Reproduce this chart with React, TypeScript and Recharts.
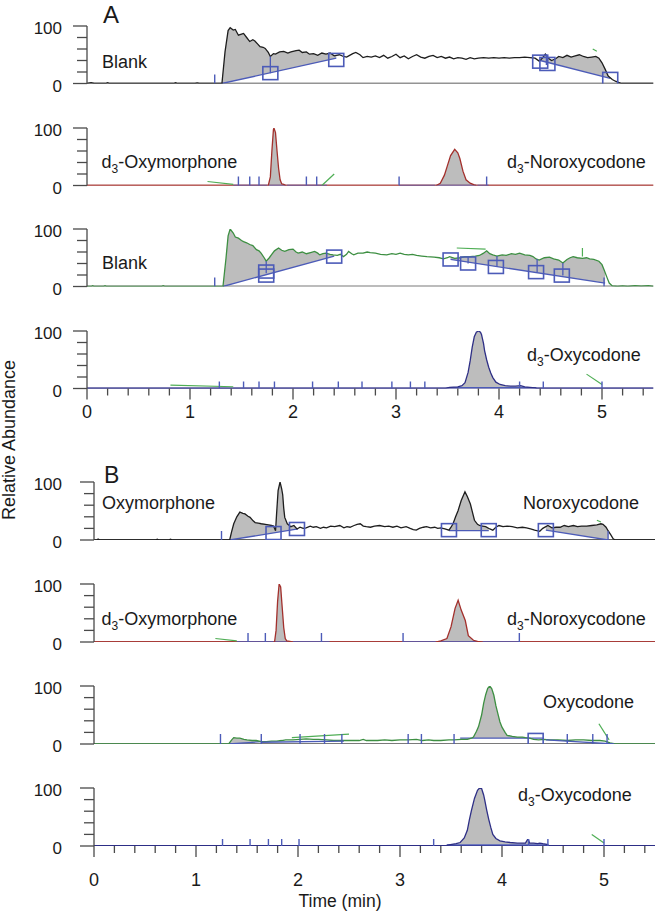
import React from "react";
import { ComposedChart, Line, Area, Scatter, XAxis, YAxis } from "recharts";

type Pt = [number, number];
type Seg = [Pt, Pt];

// ---------- A: blank ----------
const traceA1: Pt[] = [
  [0, 0], [0.04, 1.5], [0.07, 0], [0.18, 0], [0.2, 1.5], [0.22, 0], [0.84, 0], [0.86, 1.2], [0.88, 0],
  [1.05, 0], [1.07, 1], [1.09, 0], [1.31, 0], [1.34, 55], [1.37, 92], [1.39, 97], [1.42, 93], [1.44, 94],
  [1.47, 84], [1.5, 86], [1.52, 87], [1.55, 80], [1.58, 73], [1.61, 76], [1.63, 74], [1.66, 68], [1.68, 64],
  [1.71, 63], [1.73, 61], [1.76, 54], [1.78, 47], [1.81, 52], [1.83, 51], [1.87, 55], [1.91, 56], [1.95, 53],
  [1.98, 55], [2.03, 57], [2.06, 58], [2.09, 54], [2.13, 55], [2.16, 51], [2.2, 52], [2.24, 49], [2.28, 53],
  [2.32, 51], [2.36, 53], [2.4, 48], [2.45, 50], [2.49, 47], [2.52, 46], [2.55, 49], [2.58, 52], [2.61, 54],
  [2.65, 50], [2.68, 45], [2.72, 47], [2.76, 46], [2.8, 48], [2.84, 45], [2.88, 49], [2.92, 44], [2.96, 47],
  [3.0, 51], [3.04, 45], [3.08, 48], [3.12, 43], [3.16, 47], [3.2, 50], [3.24, 46], [3.28, 44], [3.32, 47],
  [3.36, 49], [3.4, 45], [3.44, 47], [3.48, 44], [3.52, 46], [3.56, 43], [3.6, 45], [3.64, 44], [3.68, 42],
  [3.72, 45], [3.76, 43], [3.8, 44], [3.85, 45], [3.9, 44], [3.95, 45], [4.0, 44], [4.05, 45], [4.1, 44],
  [4.15, 45], [4.2, 45], [4.25, 46], [4.3, 45], [4.35, 44], [4.39, 39], [4.42, 44], [4.45, 51], [4.48, 44],
  [4.51, 40], [4.55, 43], [4.58, 47], [4.62, 45], [4.66, 49], [4.7, 46], [4.74, 48], [4.78, 50], [4.82, 47],
  [4.86, 45], [4.9, 46], [4.94, 47], [4.97, 44], [5.0, 36], [5.03, 25], [5.06, 13], [5.1, 7], [5.13, 4],
  [5.16, 2], [5.19, 0], [5.5, 0],
];
const cutsA1: Seg[] = [[[1.31, 0], [2.42, 44]], [[4.4, 40], [5.08, 9]]];
const boxesA1: Pt[] = [[1.78, 18], [2.42, 41], [4.4, 38], [4.47, 34], [5.08, 8]];
const dropsA1: Seg[] = [[[1.78, 18], [1.78, 47]], [[4.46, 32], [4.46, 51]]];
const marksA1 = [1.24];
const greenA1: Seg[] = [[[4.91, 60], [4.95, 56]]];

// ---------- A: d3-oxymorphone / d3-noroxycodone ----------
const traceA2: Pt[] = [
  [0, 0], [1.76, 0], [1.78, 15], [1.795, 60], [1.81, 97], [1.815, 100], [1.83, 92], [1.845, 60], [1.86, 30],
  [1.875, 10], [1.89, 3], [1.91, 2], [1.93, 0], [3.39, 0], [3.43, 4], [3.47, 18], [3.5, 35], [3.53, 52],
  [3.57, 63], [3.6, 57], [3.62, 47], [3.65, 25], [3.68, 10], [3.72, 4], [3.76, 1], [3.78, 0], [5.5, 0],
];
const cutsA2: Seg[] = [[[1.76, 0], [1.93, 0]], [[3.39, 0], [3.78, 0]]];
const zeroA2: Seg[] = [[[1.42, 0], [1.75, 0]], [[1.94, 0], [2.33, 0]], [[3.03, 0], [3.38, 0]], [[3.79, 0], [3.9, 0]]];
const marksA2 = [1.47, 1.58, 1.67, 2.13, 2.23, 3.03, 3.88];
const greenA2: Seg[] = [[[1.17, 7], [1.42, 2]], [[2.28, 0], [2.4, 20]]];

// ---------- A: blank (second transition) ----------
const traceA3: Pt[] = [
  [0, 0], [0.04, 0], [0.055, 1.5], [0.07, 0], [0.16, 0], [0.175, 1.5], [0.19, 0], [0.72, 0], [0.74, 1.5],
  [0.76, 0], [1.32, 0], [1.35, 50], [1.37, 88], [1.39, 100], [1.42, 93], [1.44, 86], [1.47, 84], [1.5, 80],
  [1.52, 78], [1.55, 76], [1.58, 73], [1.61, 71], [1.645, 64], [1.67, 62], [1.69, 58], [1.72, 50], [1.74, 44],
  [1.77, 50], [1.79, 55], [1.82, 62], [1.86, 67], [1.89, 63], [1.92, 61], [1.96, 64], [2.0, 65], [2.03, 60],
  [2.05, 58], [2.09, 60], [2.13, 57], [2.17, 59], [2.21, 61], [2.24, 58], [2.26, 55], [2.29, 57], [2.32, 58],
  [2.36, 56], [2.39, 55], [2.43, 54], [2.46, 56], [2.49, 52], [2.52, 56], [2.54, 61], [2.57, 57], [2.59, 55],
  [2.63, 58], [2.68, 58], [2.72, 60], [2.75, 59], [2.8, 58], [2.85, 56], [2.91, 55], [2.96, 57], [3.0, 56],
  [3.04, 58], [3.08, 56], [3.12, 55], [3.16, 56], [3.2, 54], [3.25, 53], [3.3, 52], [3.37, 51], [3.42, 50],
  [3.46, 48], [3.5, 50], [3.52, 52], [3.57, 49], [3.62, 50], [3.67, 52], [3.72, 52], [3.77, 53], [3.81, 54],
  [3.85, 58], [3.88, 62], [3.91, 57], [3.94, 55], [3.98, 53], [4.03, 55], [4.07, 54], [4.12, 57], [4.16, 56],
  [4.2, 58], [4.25, 55], [4.3, 54], [4.33, 52], [4.36, 48], [4.39, 46], [4.44, 50], [4.49, 51], [4.53, 48],
  [4.58, 46], [4.62, 41], [4.66, 47], [4.69, 50], [4.72, 52], [4.76, 50], [4.81, 49], [4.85, 50], [4.88, 48],
  [4.92, 47], [4.97, 44], [5.0, 38], [5.02, 29], [5.05, 15], [5.07, 6], [5.1, 1], [5.15, 0], [5.2, 1],
  [5.25, 0], [5.32, 1.5], [5.38, 0.5], [5.45, 1.5], [5.5, 0],
];
const cutsA3: Seg[] = [[[1.32, 0], [2.4, 53]], [[3.53, 47], [5.03, 6]]];
const boxesA3: Pt[] = [[1.74, 26], [1.74, 19], [2.4, 52], [3.53, 47], [3.7, 40], [3.97, 34], [4.36, 25], [4.61, 19]];
const dropsA3: Seg[] = [
  [[1.74, 23], [1.74, 44]], [[3.7, 40], [3.7, 52]], [[3.98, 34], [3.98, 53]], [[4.37, 25], [4.37, 48]], [[4.62, 19], [4.62, 41]],
];
const marksA3 = [1.24, 5.02];
const greenA3: Seg[] = [[[3.59, 67], [3.87, 65]], [[4.81, 67], [4.81, 52]]];

// ---------- A: d3-oxycodone ----------
const traceA4: Pt[] = [
  [0, 0], [3.48, 0], [3.52, 2], [3.6, 3], [3.64, 5], [3.67, 10], [3.7, 28], [3.72, 48], [3.74, 72], [3.76, 90],
  [3.78, 98], [3.8, 100], [3.82, 98], [3.83, 94], [3.85, 78], [3.86, 66], [3.88, 50], [3.9, 37], [3.92, 27],
  [3.94, 19], [3.97, 11], [4.01, 7], [4.06, 5], [4.11, 4], [4.16, 4], [4.21, 5], [4.25, 3], [4.3, 2],
  [4.35, 1], [4.37, 0], [5.5, 0],
];
const cutsA4: Seg[] = [[[3.5, 1.5], [4.36, 1.5]]];
const marksA4 = [1.285, 1.52, 1.67, 1.82, 2.19, 2.44, 2.67, 2.96, 3.14, 3.28, 4.2, 4.43, 5.0];
const greenA4: Seg[] = [[[0.81, 6], [1.42, 3]], [[4.85, 25], [5.0, 7]]];

// ---------- B: oxymorphone / noroxycodone ----------
const traceB1: Pt[] = [
  [0, 0], [0.03, 0], [0.04, 1.5], [0.06, 0], [0.6, 0], [0.62, 1.5], [0.64, 0], [0.73, 0], [0.75, 1.5], [0.77, 0],
  [1.33, 0], [1.35, 15], [1.37, 28], [1.4, 40], [1.43, 48], [1.46, 46], [1.48, 45], [1.51, 41], [1.53, 39],
  [1.56, 33], [1.58, 30], [1.61, 29], [1.64, 28], [1.68, 27], [1.71, 26], [1.74, 25], [1.76, 24], [1.78, 16],
  [1.79, 45], [1.805, 85], [1.824, 100], [1.84, 88], [1.85, 78], [1.86, 55], [1.87, 39], [1.895, 28],
  [1.93, 23], [1.96, 25], [1.99, 19], [2.02, 22], [2.05, 20], [2.08, 21], [2.12, 24], [2.15, 22], [2.18, 23],
  [2.22, 20], [2.25, 22], [2.28, 21], [2.32, 24], [2.36, 23], [2.41, 25], [2.45, 21], [2.48, 23], [2.51, 22],
  [2.55, 25], [2.58, 27], [2.61, 28], [2.64, 24], [2.67, 23], [2.71, 22], [2.75, 24], [2.8, 25], [2.85, 23],
  [2.89, 24], [2.93, 22], [2.97, 24], [3.01, 21], [3.06, 23], [3.1, 20], [3.13, 18], [3.16, 17], [3.19, 20],
  [3.23, 22], [3.26, 23], [3.3, 21], [3.34, 22], [3.37, 20], [3.4, 21], [3.44, 19], [3.48, 17], [3.5, 22],
  [3.52, 28], [3.545, 40], [3.57, 51], [3.6, 68], [3.637, 83], [3.66, 75], [3.69, 62], [3.71, 48], [3.73, 34],
  [3.76, 27], [3.78, 25], [3.81, 24], [3.84, 23], [3.88, 19], [3.91, 17], [3.94, 22], [3.97, 25], [4.01, 23],
  [4.05, 24], [4.1, 23], [4.15, 21], [4.2, 22], [4.24, 21], [4.28, 19], [4.32, 17], [4.37, 15], [4.4, 20],
  [4.43, 23], [4.45, 25], [4.49, 21], [4.53, 22], [4.57, 22], [4.61, 25], [4.65, 23], [4.7, 25], [4.74, 23],
  [4.78, 24], [4.83, 24], [4.88, 25], [4.93, 26], [4.97, 28], [4.99, 27], [5.02, 22], [5.04, 16], [5.07, 8],
  [5.09, 2], [5.11, 0], [5.5, 0],
];
const cutsB1: Seg[] = [[[1.33, 0], [2.0, 19]], [[3.48, 16], [3.87, 16]], [[4.43, 17], [5.04, 0]]];
const boxesB1: Pt[] = [[1.76, 12], [1.99, 19], [3.48, 17], [3.87, 17], [4.43, 17]];
const marksB1 = [1.25, 5.04];
const greenB1: Seg[] = [[[4.93, 34], [4.97, 31]]];

// ---------- B: d3-oxymorphone / d3-noroxycodone ----------
const traceB2: Pt[] = [
  [0, 0], [1.77, 0], [1.785, 20], [1.8, 70], [1.815, 100], [1.83, 95], [1.845, 60], [1.86, 25], [1.875, 6],
  [1.89, 2], [1.92, 1], [1.94, 0], [3.36, 0], [3.4, 2], [3.46, 6], [3.5, 26], [3.54, 58], [3.57, 72],
  [3.6, 55], [3.64, 37], [3.67, 11], [3.72, 3], [3.76, 1], [3.8, 0], [5.5, 0],
];
const cutsB2: Seg[] = [[[1.77, 0], [1.94, 0]], [[3.36, 0], [3.8, 0]]];
const zeroB2: Seg[] = [[[1.4, 0], [1.76, 0]], [[1.95, 0], [2.31, 0]], [[3.03, 0], [3.35, 0]], [[3.81, 0], [4.17, 0]]];
const marksB2 = [1.51, 1.68, 2.23, 3.03, 4.17];
const greenB2: Seg[] = [[[1.19, 6], [1.4, 2]]];

// ---------- B: oxycodone ----------
const traceB3: Pt[] = [
  [0, 0], [1.32, 0], [1.35, 7], [1.37, 11], [1.4, 10], [1.43, 10], [1.47, 8], [1.5, 7], [1.55, 6], [1.59, 6],
  [1.64, 4], [1.69, 4], [1.74, 5], [1.79, 5], [1.84, 6], [1.88, 7], [1.95, 7], [2.02, 8], [2.08, 9], [2.15, 8],
  [2.2, 8], [2.28, 7], [2.35, 6], [2.41, 6], [2.47, 6], [2.54, 6], [2.6, 6], [2.64, 8], [2.67, 6], [2.7, 6],
  [2.78, 6], [2.85, 7], [2.92, 6], [3.0, 7], [3.08, 7], [3.16, 8], [3.22, 6], [3.28, 7], [3.33, 6], [3.4, 6],
  [3.48, 7], [3.53, 7], [3.6, 8], [3.66, 8], [3.7, 10], [3.72, 12], [3.75, 22], [3.77, 30], [3.8, 50],
  [3.82, 70], [3.84, 85], [3.86, 96], [3.88, 100], [3.9, 95], [3.92, 84], [3.94, 66], [3.96, 52], [3.98, 38],
  [4.0, 29], [4.03, 20], [4.05, 15], [4.1, 13], [4.15, 12], [4.2, 12], [4.23, 11], [4.27, 10], [4.31, 8],
  [4.36, 7], [4.41, 8], [4.47, 7], [4.55, 7], [4.64, 6], [4.72, 7], [4.8, 7], [4.88, 6], [4.96, 6], [5.01, 5],
  [5.06, 2], [5.11, 0], [5.5, 0],
];
const cutsB3: Seg[] = [[[1.32, 0], [1.64, 4]], [[3.59, 10], [4.41, 10]]];
const zeroB3: Seg[] = [[[1.64, 3], [2.45, 5]], [[4.43, 7], [5.1, 0]]];
const boxesB3: Pt[] = [[4.33, 7]];
const marksB3 = [1.24, 1.64, 2.02, 2.26, 2.43, 3.08, 3.21, 3.53, 4.64, 4.89, 5.03];
const greenB3: Seg[] = [[[1.94, 11], [2.5, 17]], [[4.95, 35], [5.05, 7]]];

// ---------- B: d3-oxycodone ----------
const traceB4: Pt[] = [
  [0, 0], [3.44, 0], [3.48, 2], [3.55, 4], [3.59, 6], [3.63, 14], [3.66, 27], [3.68, 45], [3.7, 61], [3.73, 82],
  [3.76, 96], [3.78, 100], [3.8, 99], [3.82, 88], [3.83, 80], [3.85, 62], [3.87, 46], [3.89, 32], [3.91, 20],
  [3.94, 13], [3.98, 9], [4.03, 7], [4.08, 6], [4.15, 5], [4.23, 5], [4.25, 11], [4.26, 11], [4.27, 5],
  [4.31, 5], [4.35, 4], [4.37, 5], [4.4, 4], [4.44, 3], [4.47, 0], [5.5, 0],
];
const cutsB4: Seg[] = [[[3.46, 2], [4.45, 2]]];
const marksB4 = [1.26, 1.53, 1.71, 1.84, 2.01, 3.33, 4.26, 4.45, 5.0];
const greenB4: Seg[] = [[[4.88, 20], [5.0, 5]]];

const xTicks = Array.from({ length: 28 }, (_, i) => Math.round(i * 2) / 10);
const yTicks = [0, 20, 40, 60, 80, 100];

const FONT = "'Liberation Sans', Arial, Helvetica, sans-serif";
const TEXT = "#1a1a1a";
const AXIS = "#4a4a4a";
const GRAY = "#bdbdbd";
const BLUE = "#4c5bb8";
const LGREEN = "#4fae55";
const BLACK = "#1e1e1e";
const RED = "#a3302c";
const GREEN = "#3d8f42";
const NAVY = "#2e2f86";

const interp = (tr: Pt[], t: number) => {
  for (let i = 1; i < tr.length; i++) {
    if (tr[i][0] >= t) {
      const [t0, v0] = tr[i - 1];
      const [t1, v1] = tr[i];
      return t1 === t0 ? v1 : v0 + ((v1 - v0) * (t - t0)) / (t1 - t0);
    }
  }
  return tr[tr.length - 1][1];
};

// gray area between a trace and its integration baseline
const bandData = (tr: Pt[], cut: Seg) => {
  const [[t0, v0], [t1, v1]] = cut;
  const ts = [t0, ...tr.filter((p) => p[0] > t0 && p[0] < t1).map((p) => p[0]), t1];
  return ts.map((t) => {
    const b = v0 + ((v1 - v0) * (t - t0)) / (t1 - t0);
    return { t, band: [b, Math.max(b, interp(tr, t))] };
  });
};

const segData = (s: Seg) => s.map(([t, v]) => ({ t, v }));

const XTick = (props: any) => {
  const { x, y, payload, labelDy } = props;
  const v = payload.value;
  const major = Math.abs(v - Math.round(v)) < 1e-6;
  return (
    <g>
      <line x1={x} x2={x} y1={y} y2={y + (major ? 11 : 7)} stroke={AXIS} strokeWidth={1.3} />
      {major && (
        <text x={x} y={y + labelDy} textAnchor="middle" fontSize={18} fill={TEXT} fontFamily={FONT}>
          {Math.round(v)}
        </text>
      )}
    </g>
  );
};

const YTick = (props: any) => {
  const { x, y, payload } = props;
  const major = payload.value === 0 || payload.value === 100;
  return (
    <g>
      <line x1={x - (major ? 14 : 10)} x2={x} y1={y} y2={y} stroke={AXIS} strokeWidth={1.3} />
      {major && (
        <text x={62} y={y + 8} textAnchor="end" fontSize={17} fill={TEXT} fontFamily={FONT}>
          {payload.value}
        </text>
      )}
    </g>
  );
};

type PanelProps = {
  top: number;
  h: number;
  left: number;
  ppm: number;
  trace: Pt[];
  color: string;
  cuts?: Seg[];
  zero?: Seg[];
  boxes?: Pt[];
  drops?: Seg[];
  marks?: number[];
  green?: Seg[];
  axisDy?: number;
  baseColor?: string;
  baseW?: number;
  markLen?: number;
};

const Panel = (p: PanelProps) => {
  const withAxis = p.axisDy !== undefined;
  const plotW = p.ppm * 5.5;
  const axisH = 50;
  const padB = 18;
  const height = 10 + p.h + (withAxis ? axisH : padB);
  const mLen = p.markLen ?? 9;
  const lineProps = { type: "linear" as const, dot: false, activeDot: false, isAnimationActive: false, legendType: "none" as const };
  return (
    <div style={{ position: "absolute", top: p.top - 10, left: 0 }}>
      <ComposedChart
        width={660}
        height={height}
        margin={{ top: 10, right: 660 - p.left - plotW, bottom: withAxis ? 0 : padB, left: p.left - 40 }}
      >
        <XAxis
          type="number"
          dataKey="t"
          domain={[0, 5.5]}
          ticks={xTicks}
          interval={0}
          hide={!withAxis}
          height={axisH}
          axisLine={false}
          tickLine={false}
          tickSize={0}
          tickMargin={0}
          allowDataOverflow
          tick={(t: any) => <XTick {...t} labelDy={p.axisDy} />}
        />
        <YAxis
          type="number"
          domain={[0, 100]}
          ticks={yTicks}
          interval={0}
          width={40}
          allowDataOverflow
          axisLine={{ stroke: AXIS, strokeWidth: 1.3 }}
          tickLine={false}
          tickSize={0}
          tickMargin={0}
          tick={(t: any) => <YTick {...t} />}
        />
        {(p.cuts ?? []).map((c, i) => (
          <Area
            key={`f${i}`}
            data={bandData(p.trace, c)}
            dataKey="band"
            type="linear"
            fill={GRAY}
            fillOpacity={1}
            stroke="none"
            isAnimationActive={false}
            activeDot={false}
            legendType="none"
          />
        ))}
        <Line
          data={[{ t: 0, v: 0 }, { t: 5.5, v: 0 }]}
          dataKey="v"
          stroke={p.baseColor ?? "#2a2a2a"}
          strokeWidth={p.baseW ?? 1.3}
          {...lineProps}
        />
        {(p.cuts ?? []).map((c, i) => (
          <Line key={`c${i}`} data={segData(c)} dataKey="v" stroke={BLUE} strokeWidth={1.3} {...lineProps} />
        ))}
        <Line data={p.trace.map(([t, v]) => ({ t, v }))} dataKey="v" stroke={p.color} strokeWidth={1.3} {...lineProps} />
        {(p.zero ?? []).map((c, i) => (
          <Line key={`z${i}`} data={segData(c)} dataKey="v" stroke={BLUE} strokeWidth={1.3} {...lineProps} />
        ))}
        {(p.drops ?? []).map((c, i) => (
          <Line key={`d${i}`} data={segData(c)} dataKey="v" stroke={BLUE} strokeWidth={1.3} {...lineProps} />
        ))}
        {(p.green ?? []).map((c, i) => (
          <Line key={`g${i}`} data={segData(c)} dataKey="v" stroke={LGREEN} strokeWidth={1.2} {...lineProps} />
        ))}
        <Scatter
          data={(p.marks ?? []).map((t) => ({ t, v: 0 }))}
          dataKey="v"
          isAnimationActive={false}
          legendType="none"
          shape={(s: any) => <line x1={s.cx} x2={s.cx} y1={s.cy} y2={s.cy - mLen} stroke={BLUE} strokeWidth={1.4} />}
        />
        <Scatter
          data={(p.boxes ?? []).map(([t, v]) => ({ t, v }))}
          dataKey="v"
          isAnimationActive={false}
          legendType="none"
          shape={(s: any) => (
            <rect x={s.cx - 7.5} y={s.cy - 6.5} width={15} height={13} fill="none" stroke={BLUE} strokeWidth={1.6} />
          )}
        />
      </ComposedChart>
    </div>
  );
};

const labels: { x: number; y: number; s: string }[] = [
  { x: 102, y: 68, s: "Blank" },
  { x: 101.5, y: 168, s: "d3-Oxymorphone" },
  { x: 507, y: 168, s: "d3-Noroxycodone" },
  { x: 102, y: 269, s: "Blank" },
  { x: 527, y: 361, s: "d3-Oxycodone" },
  { x: 102, y: 509, s: "Oxymorphone" },
  { x: 523, y: 509, s: "Noroxycodone" },
  { x: 101.5, y: 625, s: "d3-Oxymorphone" },
  { x: 507, y: 625, s: "d3-Noroxycodone" },
  { x: 543, y: 708, s: "Oxycodone" },
  { x: 518, y: 801, s: "d3-Oxycodone" },
];

const Label = ({ x, y, s }: { x: number; y: number; s: string }) =>
  s.startsWith("d3-") ? (
    <text x={x} y={y} fontSize={18} fill={TEXT} fontFamily={FONT}>
      d
      <tspan fontSize={12} dy={5}>3</tspan>
      <tspan dy={-5}>{s.slice(2)}</tspan>
    </text>
  ) : (
    <text x={x} y={y} fontSize={18} fill={TEXT} fontFamily={FONT}>
      {s}
    </text>
  );

export default function App() {
  const A = { left: 87, ppm: 103, h: 57.5 };
  const B = { left: 94, ppm: 102, h: 58 };
  return (
    <div style={{ position: "absolute", top: 0, left: 0, width: 660, height: 915, background: "#fff", overflow: "hidden" }}>
      <Panel {...A} top={26.3} trace={traceA1} color={BLACK} cuts={cutsA1} boxes={boxesA1} drops={dropsA1} marks={marksA1} green={greenA1} />
      <Panel {...A} top={127.8} trace={traceA2} color={RED} cuts={cutsA2} zero={zeroA2} marks={marksA2} green={greenA2} baseColor={RED} />
      <Panel {...A} top={229.3} trace={traceA3} color={GREEN} cuts={cutsA3} boxes={boxesA3} drops={dropsA3} marks={marksA3} green={greenA3} baseColor="#7a7a7a" baseW={2} />
      <Panel {...A} top={330.5} trace={traceA4} color={NAVY} cuts={cutsA4} marks={marksA4} green={greenA4} axisDy={29} markLen={7} baseColor={NAVY} baseW={2} />
      <Panel {...B} top={481.7} trace={traceB1} color={BLACK} cuts={cutsB1} boxes={boxesB1} marks={marksB1} green={greenB1} />
      <Panel {...B} top={584} trace={traceB2} color={RED} cuts={cutsB2} zero={zeroB2} marks={marksB2} green={greenB2} baseColor={RED} />
      <Panel {...B} top={686} trace={traceB3} color={GREEN} cuts={cutsB3} zero={zeroB3} boxes={boxesB3} marks={marksB3} green={greenB3} baseColor="#7a7a7a" baseW={2} markLen={10} />
      <Panel {...B} top={788} trace={traceB4} color={NAVY} cuts={cutsB4} marks={marksB4} green={greenB4} axisDy={40} markLen={7} baseColor={NAVY} baseW={2} />
      <svg width={660} height={915} style={{ position: "absolute", top: 0, left: 0, pointerEvents: "none" }}>
        <text x={103} y={23} fontSize={24} fill={TEXT} fontFamily={FONT}>A</text>
        <text x={104} y={483} fontSize={23} fill={TEXT} fontFamily={FONT}>B</text>
        {labels.map((l, i) => (
          <Label key={i} {...l} />
        ))}
        <text x={15} y={440} transform="rotate(-90 15 440)" textAnchor="middle" fontSize={18} fill={TEXT} fontFamily={FONT}>
          Relative Abundance
        </text>
        <text x={340} y={907} textAnchor="middle" fontSize={17.5} fill={TEXT} fontFamily={FONT}>
          Time (min)
        </text>
      </svg>
    </div>
  );
}
